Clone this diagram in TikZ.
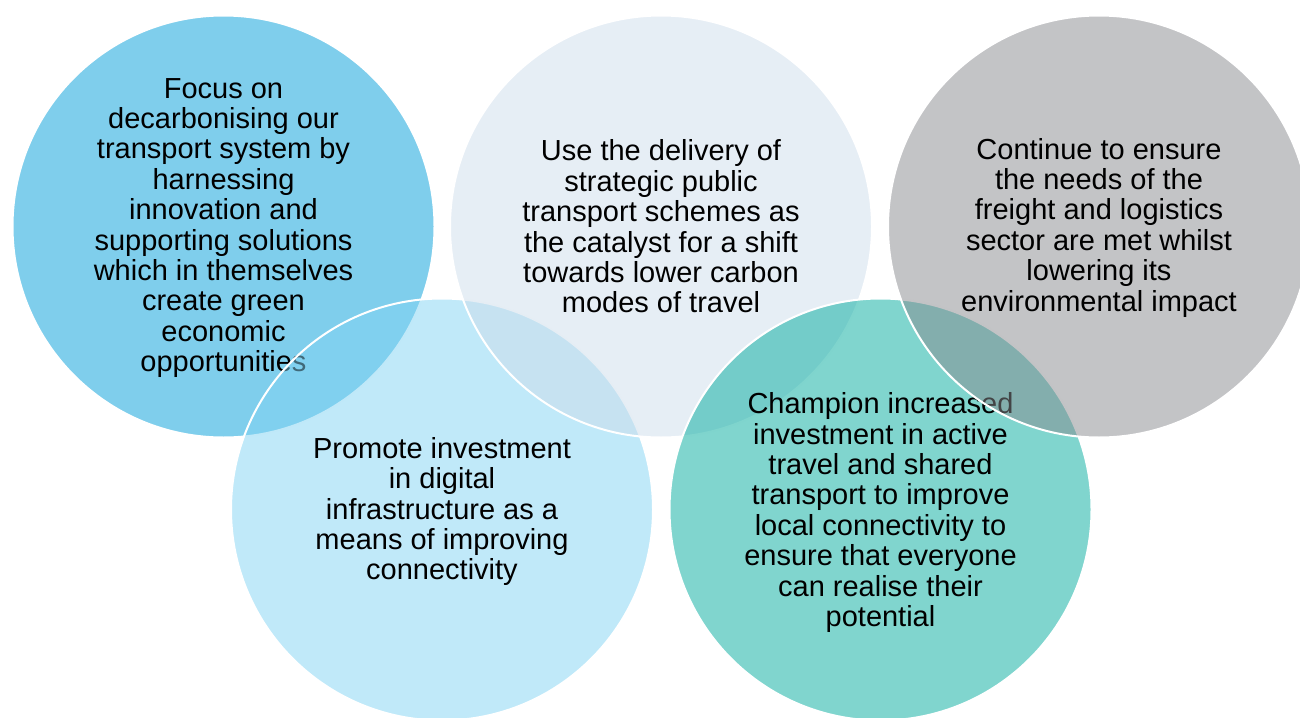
\documentclass[tikz,border=0pt]{standalone}
\usepackage{fontspec}
\setmainfont{Liberation Sans}
\definecolor{cA}{RGB}{127,206,236}
\definecolor{cB}{RGB}{205,221,235}
\definecolor{cC}{RGB}{135,137,141}
\definecolor{cD}{RGB}{129,211,243}
\definecolor{cE}{RGB}{1,171,157}
\tikzset{
  disc/.style={circle, minimum size=422pt, inner sep=0pt, draw=white, line width=2pt},
  label/.style={align=center, inner sep=0pt, text=black, text opacity=1,
    font=\fontsize{29}{30.4}\selectfont},
}
\begin{document}
\begin{tikzpicture}[x=1pt,y=-1pt]
\useasboundingbox (0,0) rectangle (1300,717);
\clip (0,0) rectangle (1300,717);
% circle 1
\node[disc, fill=cA] (c1) at (223.5,226.5) {};
\node[label] (t1) at ([yshift=-1.5pt]c1.center) {Focus on\\decarbonising our\\transport system by\\harnessing\\innovation and\\supporting solutions\\which in themselves\\create green\\economic\\opportunities};
% circle 4
\node[disc, fill=cD, fill opacity=0.5] (c4) at (442,509.5) {};
\node[label] (t4) at ([yshift=-2pt]c4.center) {Promote investment\\in digital\\infrastructure as a\\means of improving\\connectivity};
% circle 2
\node[disc, fill=cB, fill opacity=0.5] (c2) at (661,226.5) {};
\node[label] (t2) at (c2.center) {Use the delivery of\\strategic public\\transport schemes as\\the catalyst for a shift\\towards lower carbon\\modes of travel};
% circle 5
\node[disc, fill=cE, fill opacity=0.5] (c5) at (880.5,509.5) {};
\node[label] (t5) at ([yshift=-3pt]c5.center) {Champion increased\\investment in active\\travel and shared\\transport to improve\\local connectivity to\\ensure that everyone\\can realise their\\potential};
% circle 3
\node[disc, fill=cC, fill opacity=0.5] (c3) at (1099,226.5) {};
\node[label] (t3) at ([yshift=-1pt]c3.center) {Continue to ensure\\the needs of the\\freight and logistics\\sector are met whilst\\lowering its\\environmental impact};
\end{tikzpicture}
\end{document}
